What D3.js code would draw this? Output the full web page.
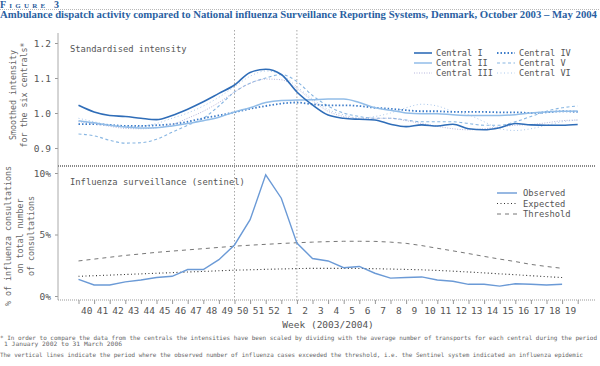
<!DOCTYPE html>
<html>
<head>
<meta charset="utf-8">
<script src="https://cdn.jsdelivr.net/npm/d3@7"></script>
<style>
  body { margin: 0; background: #fff; }
  svg { display: block; }
  .tick text { font-family: "DejaVu Sans Mono", monospace; fill: #555; }
</style>
</head>
<body>
<div id="chart"></div>
<script>
//chart size
let width = 600,
    height = 366;

//week labels (2003/2004)
const weeks = [40, 41, 42, 43, 44, 45, 46, 47, 48, 49, 50, 51, 52, 1, 2, 3, 4, 5, 6, 7, 8, 9, 10, 11, 12, 13, 14, 15, 16, 17, 18, 19];

//smoothed intensity for each central, read at week starts (33 points, last one = end of week 19)
const centralI   = [1.022, 1.003, 0.993, 0.990, 0.985, 0.981, 0.993, 1.011, 1.032, 1.056, 1.080, 1.116, 1.125, 1.110, 1.060, 1.023, 0.994, 0.985, 0.982, 0.980, 0.968, 0.961, 0.966, 0.963, 0.968, 0.955, 0.952, 0.958, 0.970, 0.966, 0.965, 0.965, 0.967];
const centralII  = [0.978, 0.972, 0.965, 0.960, 0.957, 0.958, 0.963, 0.970, 0.978, 0.988, 1.003, 1.015, 1.030, 1.036, 1.037, 1.038, 1.040, 1.040, 1.030, 1.015, 1.008, 1.000, 0.998, 0.998, 0.995, 0.993, 0.993, 0.993, 0.995, 1.000, 1.003, 1.005, 1.006];
const centralIII = [0.975, 0.970, 0.962, 0.956, 0.955, 0.958, 0.967, 0.985, 1.005, 1.030, 1.060, 1.085, 1.097, 1.095, 1.070, 1.035, 1.005, 0.990, 0.985, 0.985, 0.985, 0.978, 0.970, 0.962, 0.955, 0.952, 0.955, 0.960, 0.965, 0.967, 0.972, 0.978, 0.980];
const centralIV  = [0.968, 0.968, 0.966, 0.963, 0.963, 0.965, 0.968, 0.975, 0.985, 0.993, 1.002, 1.012, 1.020, 1.027, 1.030, 1.025, 1.022, 1.022, 1.020, 1.015, 1.012, 1.008, 1.005, 1.005, 1.003, 1.003, 1.003, 1.002, 1.002, 1.000, 1.002, 1.005, 1.003];
const centralV   = [0.940, 0.935, 0.922, 0.914, 0.915, 0.925, 0.945, 0.965, 0.985, 1.020, 1.060, 1.085, 1.100, 1.110, 1.090, 1.050, 1.020, 1.000, 0.990, 0.985, 0.985, 0.980, 0.975, 0.975, 0.975, 0.970, 0.965, 0.965, 0.975, 0.990, 1.005, 1.015, 1.020];
const centralVI  = [0.985, 0.975, 0.965, 0.960, 0.962, 0.970, 0.985, 1.000, 1.020, 1.045, 1.075, 1.105, 1.120, 1.110, 1.075, 1.040, 1.010, 0.995, 0.985, 0.990, 1.000, 1.015, 1.025, 1.020, 1.005, 0.995, 0.975, 0.955, 0.950, 0.955, 0.965, 0.975, 0.980];

//sentinel: % of influenza consultations per week
const observed  = [1.35, 0.9, 0.9, 1.15, 1.3, 1.5, 1.6, 2.15, 2.15, 2.95, 4.15, 6.2, 9.85, 7.95, 4.3, 3.05, 2.85, 2.3, 2.4, 1.85, 1.45, 1.5, 1.55, 1.3, 1.2, 0.95, 0.95, 0.8, 1.0, 0.95, 0.9, 0.95];
const expected  = [1.6, 1.65, 1.7, 1.75, 1.8, 1.85, 1.9, 1.95, 2.0, 2.05, 2.1, 2.13, 2.17, 2.2, 2.23, 2.25, 2.25, 2.25, 2.24, 2.22, 2.19, 2.16, 2.13, 2.08, 2.02, 1.95, 1.88, 1.8, 1.73, 1.65, 1.57, 1.5];
const threshold = [2.85, 3.0, 3.15, 3.3, 3.42, 3.55, 3.65, 3.75, 3.85, 3.95, 4.05, 4.13, 4.2, 4.27, 4.33, 4.38, 4.42, 4.45, 4.45, 4.44, 4.38, 4.28, 4.1, 3.88, 3.67, 3.45, 3.22, 3.0, 2.8, 2.57, 2.4, 2.25];

//epidemic period (week index where it starts / ends)
const epidemic = [10, 14];

const topTicks = [0.9, 1.0, 1.1, 1.2];
const bottomTicks = [0, 5, 10];

const svg = d3.select("#chart")
  .append("svg")
  .attr("width", width)
  .attr("height", height)
  .attr("viewBox", [0, 0, width, height]);

const font = '"DejaVu Sans Mono", monospace';

//title
svg.append("text")
  .attr("x", 0).attr("y", 7.5)
  .attr("font-family", '"Liberation Serif", serif')
  .attr("font-weight", "bold")
  .attr("font-size", 10)
  .style("font-variant", "small-caps")
  .attr("letter-spacing", 3.2)
  .attr("fill", "#2a5c9c")
  .text("Figure 3");

svg.append("line")
  .attr("x1", 0).attr("x2", 600).attr("y1", 9.5).attr("y2", 9.5)
  .attr("stroke", "#b8b8b8").attr("stroke-dasharray", "1,1");

svg.append("text")
  .attr("x", 0).attr("y", 18)
  .attr("font-family", '"Liberation Serif", serif')
  .attr("font-weight", "bold")
  .attr("font-size", 10.5)
  .attr("fill", "#2a5fa2")
  .attr("textLength", 597)
  .attr("lengthAdjust", "spacingAndGlyphs")
  .text("Ambulance dispatch activity compared to National influenza Surveillance Reporting Systems, Denmark, October 2003 \u2013 May 2004");

//scales
let x = d3.scaleLinear()
  .domain([0, 32])
  .range([78.5, 577.7]);

let yTop = d3.scaleLinear()
  .domain([0.9, 1.2])
  .range([148, 43]);

let yBot = d3.scaleLinear()
  .domain([0, 10])
  .range([296, 173]);

const axisLeftX = 58,
      topY = 33,
      sepY = 166,
      baseY = 300,
      rightX = 596;

//vertical lines for the epidemic period
svg.append("g")
  .selectAll("line")
  .data(epidemic)
  .join("line")
  .attr("x1", d => x(d)).attr("x2", d => x(d))
  .attr("y1", topY - 3).attr("y2", baseY)
  .attr("stroke", "#a8a8a8")
  .attr("stroke-dasharray", "1.5,2");

//y axes
svg.append("g")
  .attr("transform", `translate(${axisLeftX},0)`)
  .call(d3.axisLeft(yTop).tickValues(topTicks).tickFormat(d3.format(".1f")).tickSize(3).tickPadding(4))
  .call(g => g.select(".domain").remove())
  .call(g => g.selectAll(".tick line").attr("stroke", "#999"))
  .call(g => g.selectAll(".tick text").attr("font-size", 9.5));

svg.append("g")
  .attr("transform", `translate(${axisLeftX},0)`)
  .call(d3.axisLeft(yBot).tickValues(bottomTicks).tickFormat(d => d + "%").tickSize(3).tickPadding(4))
  .call(g => g.select(".domain").remove())
  .call(g => g.selectAll(".tick line").attr("stroke", "#999"))
  .call(g => g.selectAll(".tick text").attr("font-size", 9.5));

svg.append("line")
  .attr("x1", axisLeftX).attr("x2", axisLeftX)
  .attr("y1", topY).attr("y2", baseY)
  .attr("stroke", "#aaa");

//panel separator and base line
svg.append("line")
  .attr("x1", axisLeftX).attr("x2", rightX).attr("y1", sepY).attr("y2", sepY)
  .attr("stroke", "#888").attr("stroke-width", 2).attr("stroke-dasharray", "1,1");

svg.append("line")
  .attr("x1", axisLeftX).attr("x2", rightX).attr("y1", baseY).attr("y2", baseY)
  .attr("stroke", "#999").attr("stroke-dasharray", "1,1");

//x axis ticks (week boundaries) and labels (week centres)
svg.append("g")
  .attr("transform", `translate(0,${baseY})`)
  .call(d3.axisBottom(x).tickValues(d3.range(33)).tickFormat("").tickSize(4))
  .call(g => g.select(".domain").remove())
  .call(g => g.selectAll(".tick line").attr("stroke", "#999"));

svg.append("g")
  .attr("transform", `translate(0,${baseY})`)
  .call(d3.axisBottom(x).tickValues(d3.range(32).map(i => i + 0.5)).tickFormat(d => weeks[Math.floor(d)]).tickSize(0).tickPadding(7))
  .call(g => g.select(".domain").remove())
  .call(g => g.selectAll(".tick text").attr("font-size", 9.5));

svg.append("text")
  .attr("x", (x(0) + x(32)) / 2).attr("y", 328)
  .attr("text-anchor", "middle")
  .attr("font-family", font).attr("font-size", 9.5).attr("fill", "#555")
  .text("Week (2003/2004)");

//axis titles
const yTitle = (lines, cx, cy, gap) => {
  const t = svg.append("text")
    .attr("transform", `translate(${cx},${cy}) rotate(-90)`)
    .attr("text-anchor", "middle")
    .attr("font-family", font).attr("font-size", 8.3).attr("fill", "#666");
  lines.forEach((l, i) => t.append("tspan").attr("x", 0).attr("dy", i === 0 ? 0 : gap).text(l));
};
yTitle(["Smoothed intensity", "for the six centrals*"], 16, 95, 11);
yTitle(["% of influenza consultations", "on total number", "of consultations"], 11, 236, 11.5);

//panel titles
svg.append("text")
  .attr("x", 70).attr("y", 52)
  .attr("font-family", font).attr("font-size", 8.8).attr("fill", "#555")
  .text("Standardised intensity");

svg.append("text")
  .attr("x", 70).attr("y", 185)
  .attr("font-family", font).attr("font-size", 8.8).attr("fill", "#555")
  .text("Influenza surveillance (sentinel)");

//top panel lines
const topSeries = [
  { name: "Central I",   values: centralI,   color: "#2f6db8", width: 1.6, dash: null },
  { name: "Central II",  values: centralII,  color: "#92bde8", width: 1.5, dash: null },
  { name: "Central III", values: centralIII, color: "#b6b6dc", width: 1,   dash: "1,1.5" },
  { name: "Central IV",  values: centralIV,  color: "#3d7cc9", width: 1.8, dash: "1.5,2" },
  { name: "Central V",   values: centralV,   color: "#88b6e2", width: 1.1, dash: "3,2.5" },
  { name: "Central VI",  values: centralVI,  color: "#aac8ec", width: 1,   dash: "1,2.5" }
];

const lineTop = d3.line()
  .x((d, i) => x(i))
  .y(d => yTop(d))
  .curve(d3.curveMonotoneX);

svg.append("g")
  .attr("fill", "none")
  .selectAll("path")
  .data(topSeries.slice().reverse())
  .join("path")
  .attr("d", d => lineTop(d.values))
  .attr("stroke", d => d.color)
  .attr("stroke-width", d => d.width)
  .attr("stroke-dasharray", d => d.dash);

//top legend
const legTop = svg.append("g")
  .selectAll("g")
  .data(topSeries)
  .join("g")
  .attr("transform", (d, i) => `translate(${i < 3 ? 414 : 497},${53 + (i % 3) * 10})`);

legTop.append("line")
  .attr("x1", 0).attr("x2", 18)
  .attr("stroke", d => d.color)
  .attr("stroke-width", d => d.width)
  .attr("stroke-dasharray", d => d.dash);

legTop.append("text")
  .attr("x", 22).attr("y", 3.2)
  .attr("font-family", font).attr("font-size", 8.6).attr("fill", "#555")
  .text(d => d.name);

//bottom panel lines
const botSeries = [
  { name: "Observed",  values: observed,  color: "#6b9ad6", width: 1.4, dash: null },
  { name: "Expected",  values: expected,  color: "#333",    width: 1.1, dash: "1,2.5" },
  { name: "Threshold", values: threshold, color: "#777",    width: 1,   dash: "4,4" }
];

const lineBot = d3.line()
  .x((d, i) => x(i))
  .y(d => yBot(d));

svg.append("g")
  .attr("fill", "none")
  .selectAll("path")
  .data(botSeries.slice().reverse())
  .join("path")
  .attr("d", d => lineBot(d.values))
  .attr("stroke", d => d.color)
  .attr("stroke-width", d => d.width)
  .attr("stroke-dasharray", d => d.dash);

const legBot = svg.append("g")
  .selectAll("g")
  .data(botSeries)
  .join("g")
  .attr("transform", (d, i) => `translate(497,${193 + i * 10.5})`);

legBot.append("line")
  .attr("x1", 0).attr("x2", 20)
  .attr("stroke", d => d.color)
  .attr("stroke-width", d => d.width)
  .attr("stroke-dasharray", d => d.dash);

legBot.append("text")
  .attr("x", 26).attr("y", 3.2)
  .attr("font-family", font).attr("font-size", 8.8).attr("fill", "#555")
  .text(d => d.name);

//footnotes
const notes = [
  { t: "* In order to compare the data from the centrals the intensities have been scaled by dividing with the average number of transports for each central during the period", x: 0, y: 340, len: 597 },
  { t: "1 January 2002 to 31 March 2006", x: 4, y: 346, len: 118 },
  { t: "The vertical lines indicate the period where the observed number of influenza cases exceeded the threshold, i.e. the Sentinel system indicated an influenza epidemic", x: 0, y: 357, len: 583 }
];

svg.append("g")
  .selectAll("text")
  .data(notes)
  .join("text")
  .attr("x", d => d.x).attr("y", d => d.y)
  .attr("font-family", font).attr("font-size", 6).attr("fill", "#666")
  .attr("textLength", d => d.len)
  .attr("lengthAdjust", "spacingAndGlyphs")
  .text(d => d.t);
</script>
</body>
</html>
